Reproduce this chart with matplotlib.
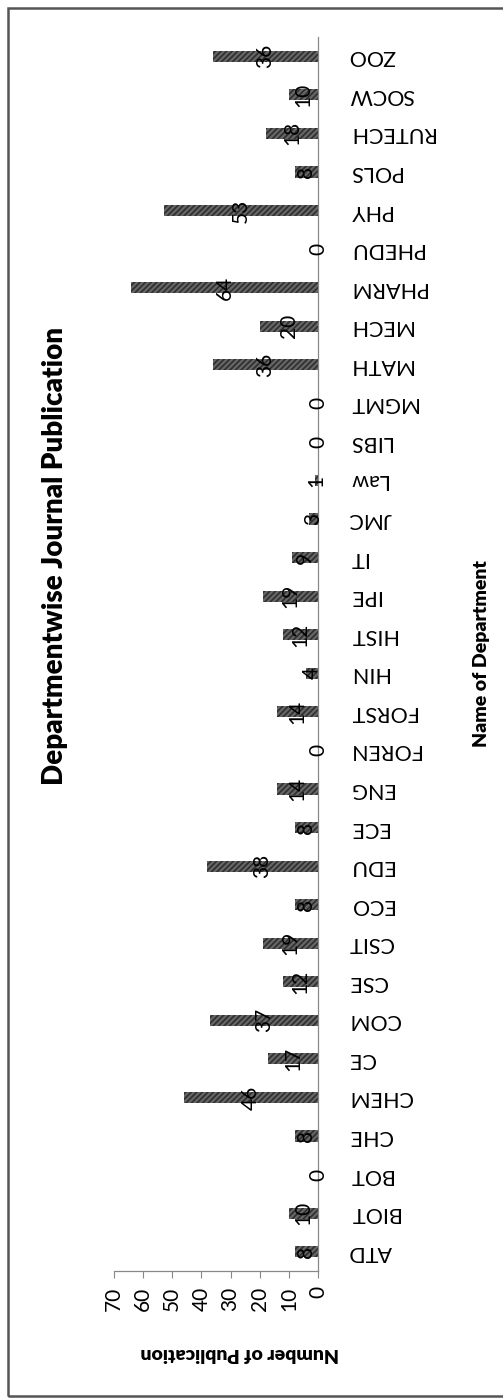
import matplotlib
matplotlib.use("Agg")
import matplotlib.pyplot as plt
from matplotlib.patches import Rectangle

departments = ["ATD", "BIOT", "BOT", "CHE", "CHEM", "CE", "COM", "CSE", "CSIT", "ECO",
               "EDU", "ECE", "ENG", "FOREN", "FORST", "HIN", "HIST", "IPE", "IT", "JMC",
               "Law", "LIBS", "MGMT", "MATH", "MECH", "PHARM", "PHEDU", "PHY", "POLS",
               "RUTECH", "SOCW", "ZOO"]
publications = [8, 10, 0, 8, 46, 17, 37, 12, 19, 8,
                38, 8, 14, 0, 14, 4, 12, 19, 9, 3,
                1, 0, 0, 36, 20, 64, 0, 53, 8,
                18, 10, 36]
value_ticks = [0, 10, 20, 30, 40, 50, 60, 70]

title = "Departmentwise Journal Publication"
value_label = "Number of Publication"
category_label = "Name of Department"

plt.rcParams['font.family'] = ['Lato', 'DejaVu Sans']
plt.rcParams['hatch.linewidth'] = 1.2

W, H = 503, 1399
fig = plt.figure(figsize=(W / 100, H / 100), dpi=100)
fig.patch.set_facecolor('white')

left, right, top, bottom = 114, 318, 37, 1271
ax = fig.add_axes([left / W, 1 - bottom / H, (right - left) / W, (bottom - top) / H])

pos = list(range(len(departments)))
ax.barh(pos, publications, height=0.29, color='#666666', edgecolor='#2e2e2e',
        hatch='//////', linewidth=0)

ax.set_xlim(70, 0)
ax.set_ylim(-0.5, len(departments) - 0.5)

for p, v in zip(pos, publications):
    ax.text(v / 2, p, str(v), rotation=90, ha='center', va='center',
            fontsize=15, color='black')

ax.set_xticks(value_ticks)
ax.set_xticklabels([str(t) for t in value_ticks], rotation=90, fontsize=15)
ax.tick_params(axis='x', direction='out', length=5, width=0.8, color='#888888', pad=6)

ax.yaxis.tick_right()
ax.set_yticks(pos)
ax.set_yticklabels(departments, rotation=180, fontsize=15.5, ha='left', va='center')
ax.tick_params(axis='y', length=0, pad=22)

for s in ['left', 'top']:
    ax.spines[s].set_visible(False)
for s in ['right', 'bottom']:
    ax.spines[s].set_color('#888888')
    ax.spines[s].set_linewidth(0.9)

fig.text(55 / W, 1 - 556 / H, title, rotation=90, ha='center', va='center',
         fontsize=20, fontweight='heavy')
fig.text(240 / W, 1 - 1353 / H, value_label, rotation=180, ha='center', va='center',
         fontsize=14, fontweight='heavy')
fig.text(481 / W, 1 - 654 / H, category_label, rotation=90, ha='center', va='center',
         fontsize=14, fontweight='heavy')

fig.patches.append(Rectangle((8 / W, 1 - 1396 / H), 1.0, (1396 - 8) / H,
                             transform=fig.transFigure, fill=False,
                             edgecolor='#555555', linewidth=1.8))

fig.savefig("out.png", dpi=100, facecolor='white')
